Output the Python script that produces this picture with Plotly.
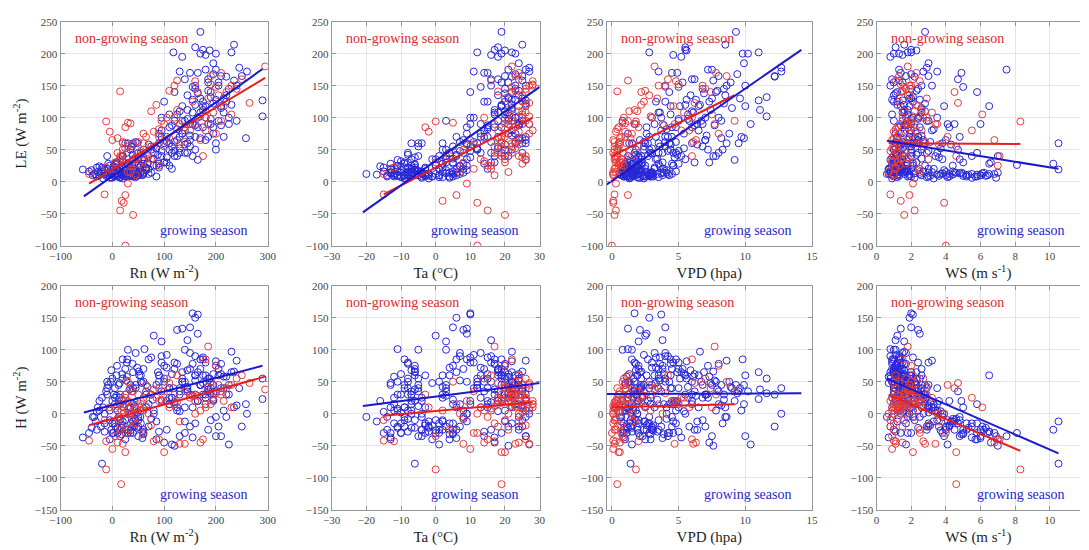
import plotly.graph_objects as go

# ---------------- data ----------------
# growing season observations (blue)
grow_rn = [-57,-35,-30,-25,-22,-20,-18,-15,-12,-10, -8,-5,-3,-2,0,2,4,5,8,10, 12,14,15,18,20,22,25,28,30,32,
           35,38,40,42,45,48,50,52,55,58, 60,-5,25,30,62,-30,-38,0,10,-25, 5,15,35,45,20,-15,40,55,-40,28,
           80,30,40,45,55,150,160,155,165,125, 135,165,95,65,70,75,80,85,90,100, 110,115,50,35,25,15,5,-10,0,70,
           88,105,60,45,140,50,120,65,40,75, 20,90,
           100,110,120,130,140,150,160,170,180,190, 200,210,220,130,145,155,95,90,80,105, 115,125,135,145,165,175,185,195,205,215,
           225,240,258,110,75,90,140,100,120,160, 170,150,60,185,195,130,70,230,200,110,
           170,160,118,175,188,200,235,230,245,290, 290,150,140,180,195,210,220,205,130,165, 185,155,200,120,175,190,215,160,145,100,
           135,180,190,170,240,225,210,250,260,60, 40,30,
           -28,-20,-15,-10,-5,0,3,6,9,12, 16,19,22,26,29,33,36,39,43,47, 51,54,57,-2,8,18,27,37,48,58,
           68,78,85,95,-32,-45,14,31,49,65,
           105,115,125,135,145,155,165,175,185,195, 205,215,225,235,120,130,140,150,160,170,
           180,190,200,210,85,95,105,115,125,145, 155,175,185,195,180,160,135,220,95,110,
           20,35,45,60,10,25,50,40,15,55]
grow_ta = [-13,-20,-14,-12,-11,-6,-9,-8,-7,-11, -13,-9,-8,-7,-6,-10,-12,-5,-6,-8, -9,-4,-7,-11,-5,-3,-6,-8,-4,-7,
           -3,-5,-6,-2,-9,-4,-5,-3,-7,-2, -6,-13,-7,-5,-11,-15,-14,-13,-10,-16, -12,-10,-9,-8,-2,-4,-1,-11,-7,-12,
           0,2,3,1,4,5,6,10,10,8, 9,9,3,6,7,2,8,4,9,5, 7,1,0,3,8,6,2,1,4,9,
           6,10,5,7,3,8,10,3,5,8, 6,2,
           12,15,18,20,22,24,19,21,23,25, 20,22,24,14,16,17,11,13,9,16, 18,20,23,25,26,17,15,19,21,26,
           23,25,24,12,10,14,19,17,21,22, 18,13,12,24,21,25,15,22,26,20,
           19,18,12,17,20,23,25,22,27,26, 24,14,16,21,24,20,22,23,11,15, 18,13,26,10,19,22,25,20,17,14,
           18,16,21,19,26,27,26,25,27,5, 2,0,
           -13,-12,-10,-9,-11,-8,-7,-9,-6,-5, -8,-10,-7,-4,-9,-6,-3,-8,-5,-2, -6,-4,-1,1,3,5,7,9,4,6,
           2,5,9,7,-17,-15,-13,-11,-10,-8,
           13,15,17,19,21,23,20,22,24,26, 19,21,23,25,16,18,20,22,24,25,
           19,20,22,24,12,14,11,13,15,18, 17,15,21,23,26,16,22,20,18,23,
           -3,0,2,4,-6,-1,3,1,-4,5]
grow_vpd = [0.9,0.6,0.9,1.0,1.1,1.4,1.3,1.5,1.6,1.2, 1.0,1.4,1.7,1.8,2.0,1.1,0.9,2.1,1.9,1.6, 1.5,2.3,1.8,1.2,2.2,2.5,2.0,1.7,2.6,1.9,
            2.8,2.4,2.1,3.0,1.4,2.7,2.3,3.2,1.8,3.4, 2.0,1.0,1.3,1.5,1.2,0.8,0.7,0.9,1.1,0.8, 1.0,1.3,1.6,1.7,2.4,1.9,3.1,1.3,1.5,1.1,
            2.5,3.0,2.2,2.8,3.5,4.0,2.8,1.7,3.7,2.1, 1.2,2.6,2.0,3.2,4.5,1.8,4.8,2.5,4.3,3.8, 4.6,1.5,1.8,2.4,3.8,3.0,1.6,1.2,2.0,4.4,
            4.9,4.7,4.2,4.0,0.8,4.5,5.0,1.7,2.9,4.1, 2.7,1.9,
            3.5,4.5,5.0,6.0,6.5,7.0,5.5,7.5,8.0,6.8, 7.2,9.0,8.5,4.2,3.8,5.2,3.0,2.6,5.5,6.2, 6.8,7.8,8.8,9.5,9.2,4.8,4.0,6.0,5.8,9.7,
            7.0,8.2,9.9,4.4,3.6,5.0,4.6,7.3,7.6,8.3, 3.5,3.2,2.8,6.4,5.4,8.0,3.9,6.6,8.6,5.7,
            9.3,5.5,2.8,5.5,5.6,10.2,8.5,11.0,12.7,11.0, 11.6,4.5,6.0,7.2,9.9,8.0,12.2,10.0,3.5,4.9, 6.2,5.0,7.5,4.3,6.5,7.8,9.6,8.4,11.1,4.0,
            5.2,4.6,11.6,9.8,8.6,10.4,10.0,12.2,12.7,3.5, 2.5,2.0,
            1.0,1.2,1.3,1.5,1.1,1.6,1.8,1.4,2.0,2.2, 1.7,1.3,1.9,2.4,1.5,2.1,2.7,1.8,2.5,3.0, 2.2,2.8,3.3,1.9,2.3,2.9,3.6,4.1,3.0,3.8,
            2.2,3.4,4.6,4.2,0.7,0.8,1.0,1.2,1.4,1.9,
            3.3,3.9,4.4,5.1,5.7,6.3,6.9,7.4,7.9,8.4, 5.3,6.1,6.8,7.6,4.8,5.4,6.4,7.1,7.7,8.2,
            4.4,5.0,5.6,6.2,3.0,3.7,2.4,2.9,4.1,5.9, 3.6,3.3,8.9,9.4,7.0,4.0,6.7,7.3,4.5,6.0,
            2.6,3.1,3.5,3.9,1.9,2.9,3.7,4.3,2.1,4.8]
grow_ws = [0.7,0.6,1.0,1.2,0.8,10.5,0.9,1.1,1.3,1.8, 1.0,2.2,0.9,1.6,1.2,1.4,3.0,1.1,0.8,1.3, 2.5,1.7,1.0,4.0,1.5,2.0,3.5,1.2,4.5,1.4,
           5.0,1.9,1.0,5.5,2.3,1.6,6.0,1.3,3.2,6.5, 0.9,7.0,2.8,1.1,0.8,1.5,0.9,3.8,2.0,1.1, 1.6,1.2,2.6,1.4,3.3,1.9,4.2,1.7,2.4,0.7,
           1.2,4.0,1.5,5.2,2.0,2.0,1.9,2.0,2.1,2.4, 1.4,2.5,1.6,3.0,4.2,1.0,3.5,5.8,2.2,1.2, 2.8,1.7,4.8,2.6,1.3,6.2,1.1,2.0,5.5,1.4,
           2.3,3.6,6.8,1.5,1.0,2.1,3.0,1.3,1.8,4.6, 1.0,1.5,
           1.8,2.2,1.5,2.8,3.2,4.0,1.2,2.0,3.5,4.5, 1.4,2.6,1.8,4.8,1.1,5.5,2.4,1.6,3.8,5.0, 2.7,3.4,1.9,2.3,1.5,1.3,2.1,4.2,2.9,2.4,
           1.7,3.0,2.2,1.0,1.3,6.5,5.8,6.6,7.0,4.7, 2.6,1.7,2.0,6.0,1.1,2.4,3.3,1.6,3.8,1.8,
           2.8,1.1,1.8,2.0,2.3,1.0,1.6,2.0,2.9,1.5, 2.5,1.4,0.9,1.3,3.0,1.7,2.2,2.6,3.5,4.9, 4.7,5.0,7.5,5.8,6.5,1.2,1.9,2.4,1.6,1.0,
           0.8,1.5,2.1,1.3,3.2,4.1,3.9,3.0,2.7,10.2, 10.5,8.1,
           1.3,0.9,1.7,1.0,2.1,0.8,1.3,3.6,1.1,1.6, 4.4,1.0,2.2,5.2,0.9,1.5,5.8,1.2,2.7,6.3, 1.0,4.8,1.7,2.9,1.4,5.0,1.2,3.9,1.1,6.0,
           1.8,2.6,4.4,1.3,1.2,1.8,0.7,1.9,3.0,1.5,
           1.2,1.6,0.9,1.4,2.0,2.5,1.1,1.8,2.3,2.8, 1.0,1.5,2.0,1.3,3.1,3.7,4.3,2.6,1.7,1.2,
           1.9,2.4,0.9,1.4,1.5,2.0,1.1,2.9,3.3,1.0, 1.6,2.1,1.5,2.0,2.7,0.8,1.8,1.2,2.4,2.1,
           3.1,3.7,4.1,4.9,5.3,5.7,6.1,6.4,6.9,4.4]
grow_le = [19,12,8,10,16,19,5,14,9,20, 28,6,11,15,18,24,8,13,22,30, 12,16,35,10,40,20,11,45,14,25,
           9,55,18,12,30,60,10,22,15,12, 38,14,60,60,34,22,10,13,8,24, 12,7,10,16,5,12,8,25,18,13,
           25,15,35,10,45,55,70,90,100,65, 75,85,40,20,12,50,45,8,60,30, 25,20,35,50,20,14,28,40,6,58,
           42,38,12,62,95,28,48,18,8,14, 40,22,
           60,85,95,110,80,65,120,130,100,90, 50,115,135,70,45,40,100,75,35,30, 55,40,75,60,34,85,70,85,95,70,
           100,95,68,50,55,28,45,30,40,50, 108,90,50,90,75,45,20,120,60,105,
           234,210,202,206,205,200,214,202,178,127, 102,170,160,175,185,165,164,150,172,170, 160,148,175,140,118,140,130,145,112,125,
           195,198,132,200,150,90,118,165,172,28, 60,26,
           15,22,18,10,25,14,20,9,27,17, 11,32,13,8,28,19,11,42,16,9, 26,13,35,7,30,12,24,18,44,10,
           28,36,25,48,11,16,20,9,14,22,
           70,88,105,118,98,128,138,112,142,122, 155,108,145,158,62,52,58,72,88,68,
           118,98,128,88,52,80,62,45,82,135, 108,125,155,168,65,150,95,125,70,60,
           9,12,7,14,11,8,13,10,6,16]
grow_h = [-37,-5,-25,5,-20,-78,10,-28,35,30, 45,-10,50,68,20,-30,-15,40,60,5, -5,25,15,-22,55,10,-10,80,-25,0,
          -30,35,65,-20,45,20,-35,60,5,-28, 70,-40,30,100,101,3,-5,-30,-30,20, 15,30,10,40,-12,0,-18,50,-22,58,
          122,-25,40,-15,60,135,150,157,155,131, 133,125,113,10,-20,30,5,-40,50,75, 15,-48,-10,45,70,-25,25,50,-15,85,
          65,20,-30,95,100,-5,80,35,15,-8, 85,60,
          55,40,70,30,10,-20,60,45,15,-10, 75,40,-5,-35,115,-37,80,60,0,-25, 25,5,50,35,20,85,55,20,-20,5,
          30,13,15,40,88,-28,-30,-45,-50,-15, 70,95,50,-25,62,35,15,97,-5,25,
          45,60,40,30,55,35,10,65,40,23, 55,70,50,25,45,78,30,60,40,20, 35,10,-35,15,60,50,40,30,38,50,
          65,80,32,85,83,-48,-35,-20,0,-25, -12,-30,
          10,25,-15,40,5,55,30,-20,75,45, -8,62,20,-25,85,38,-15,78,12,-22, 66,-5,48,-25,28,-32,52,0,72,-38,
          42,22,-12,90,-12,-30,48,8,2,30,
          72,62,78,55,42,28,65,48,38,22, 70,58,45,66,18,4,-12,30,52,45,
          60,40,82,62,45,35,92,25,10,68, 78,88,42,32,30,90,50,58,20,15,
          -18,-26,-10,-32,-22,-40,-20,-30,-35,-15]

# non-growing season observations (red)
ng_rn = [-45,-12,-5,15,18,15,25,25,40,22, 30,25,30,35,20,0,10,17,25,-15, -12,5,40,50,60,70,80,90,100,110,
         120,125,295,160,190,210,220,265,200,210, 185,180,150,230,170,175,130,140,90,100,
         60,45,55,75,85,190,160,205,35,15, 65,120,180,240,250,10,30,45,20,60,
         5,15,25,35,50,65,80,95,110,125, 140,155,170,185,200,215,45,30,20,75, 90,130,165,180,60,40,10,105,195,230]
ng_ta = [-15,0,-2,18,2,15,6,12,20,12, 9,-3,5,20,8,10,14,19,20,-15, -12,0,16,18,22,24,17,19,21,23,
         25,16,22,28,28,24,26,27,20,22, 17,22,18,25,24,26,27,23,15,19,
         11,13,21,24,26,23,21,25,7,4, 20,28,28,26,24,17,22,25,19,14,
         16,20,23,25,19,22,24,26,18,21, 23,25,27,20,22,24,17,21,23,26, 20,24,22,25,27,11,8,14,26,27]
ng_vpd = [0.1,1.8,0.3,0.4,0.1,0.3,1.2,0.0,0.2,0.1, 0.3,0.5,0.8,1.0,0.2,0.1,0.6,0.4,0.6,0.2,
          0.3,0.8,0.5,0.9,1.1,1.5,2.0,0.7,1.8,2.5, 3.0,1.2,3.2,4.8,5.0,7.8,7.4,6.2,8.0,9.2,
          7.7,6.0,5.2,7.5,6.3,6.0,4.7,6.1,0.9,0.5, 0.7,0.2,0.4,1.3,2.2,8.6,3.8,2.8,0.1,0.2,
          1.0,3.5,5.8,7.0,4.2,0.1,0.2,0.3,0.5,0.6,
          0.2,0.3,0.4,0.5,0.6,0.8,1.0,1.2,1.4,1.7, 2.0,2.4,2.9,3.4,4.0,4.6,0.1,0.3,0.2,0.7,
          0.4,1.6,2.2,1.9,1.5,0.6,0.3,0.9,5.4,6.8]
ng_ws = [1.0,8.3,1.0,1.5,1.4,2.2,1.9,4.0,1.6,3.9, 2.1,1.2,2.0,1.8,1.1,0.9,1.5,4.6,2.1,0.8,
         1.1,0.9,1.3,1.7,2.4,1.0,2.7,1.2,2.2,1.5, 2.9,1.1,1.8,2.5,1.4,2.3,4.5,4.7,2.0,2.0,
         1.8,1.5,5.5,6.1,6.8,7.1,3.4,2.8,7.0,4.6, 2.5,1.2,0.8,1.6,2.3,1.3,3.5,1.9,0.7,1.0,
         4.1,2.0,2.6,1.7,2.1,1.3,1.0,1.8,1.2,0.9,
         1.1,1.4,0.9,1.7,2.0,1.2,2.3,1.5,1.0,2.6, 1.8,1.3,2.1,2.9,1.6,2.4,1.0,2.5,1.6,3.0,
         1.1,3.6,1.4,2.2,1.3,1.9,1.2,2.7,3.2,1.9]
ng_le = [12,94,78,141,-30,-45,-21,-100,-52,-33, -3,85,92,91,50,65,68,40,30,-20,
         22,30,25,45,60,40,55,70,90,142, 100,158,180,157,152,170,140,123,75,95,
         90,100,80,105,65,40,90,62,25,55, 20,35,48,110,120,165,90,135,15,40,
         70,150,80,145,160,45,55,38,60,32,
         20,35,52,28,62,45,78,95,68,112, 85,125,102,130,148,118,10,15,62,35,
         82,58,140,110,75,58,30,100,108,150]
ng_h = [-42,-87,10,-20,5,-5,15,-30,-10,0, 20,30,50,40,-47,-55,-45,-110,-60,-10,
        -43,-35,5,15,25,0,-43,20,35,10, 30,60,38,20,15,30,40,48,75,35,
        105,85,25,10,-45,-40,-47,-47,-40,-60, -30,10,20,30,25,50,0,45,0,-25,
        45,15,10,55,60,12,18,8,22,5,
        8,15,25,2,30,12,38,22,48,18, 35,28,5,42,32,20,-15,-25,12,-18,
        40,-12,28,15,8,35,-8,55,25,45]

# fitted regression lines (end points): [x0, x1], [y0, y1]
fit_grow = {
    ("rn", "le"): ([-55, 290], [-23, 176]),   ("ta", "le"): ([-21, 30], [-48, 148]),
    ("vpd", "le"): ([-0.5, 14.2], [-6, 206]), ("ws", "le"): ([0.6, 10.5], [64, 20]),
    ("rn", "h"): ([-55, 290], [2, 75]),       ("ta", "h"): ([-21, 30], [12, 48]),
    ("vpd", "h"): ([-0.5, 14.2], [31, 32]),   ("ws", "h"): ([0.6, 10.5], [55, -62]),
}
fit_ng = {
    ("rn", "le"): ([-45, 295], [-3, 162]),    ("ta", "le"): ([-15, 28], [-20, 100]),
    ("vpd", "le"): ([0, 9.2], [40, 135]),     ("ws", "le"): ([0.7, 8.3], [60, 59]),
    ("rn", "h"): ([-45, 295], [-18, 58]),     ("ta", "h"): ([-15, 28], [-3, 18]),
    ("vpd", "h"): ([0, 9.2], [10, 15]),       ("ws", "h"): ([0.7, 8.3], [30, -58]),
}

x_names = ["rn", "ta", "vpd", "ws"]
x_titles = ["Rn (W m<sup>-2</sup>)", "Ta (°C)", "VPD (hpa)", "WS (m s<sup>-1</sup>)"]
x_ticks = [[-100, 0, 100, 200, 300], [-30, -20, -10, 0, 10, 20, 30], [0, 5, 10, 15], [0, 2, 4, 6, 8, 10, 12]]
y_names = ["le", "h"]
y_titles = ["LE (W m<sup>-2</sup>)", "H (W m<sup>-2</sup>)"]
y_ticks = [[-100, -50, 0, 50, 100, 150, 200, 250], [-150, -100, -50, 0, 50, 100, 150, 200]]
label_ng = "non-growing season"
label_grow = "growing season"

grow = {"rn": grow_rn, "ta": grow_ta, "vpd": grow_vpd, "ws": grow_ws, "le": grow_le, "h": grow_h}
ng = {"rn": ng_rn, "ta": ng_ta, "vpd": ng_vpd, "ws": ng_ws, "le": ng_le, "h": ng_h}
n_g = min(len(v) for v in grow.values())
n_n = min(len(v) for v in ng.values())

# ---------------- layout geometry ----------------
W, H = 1089, 550
col_px = [(50.5, 261.5), (326.7, 538.5), (606.7, 816.0), (881.7, 1089.0)]
col_true_right = [261.5, 538.5, 816.0, 1094.0]
row_px = [(16, 245), (286, 515)]
x_ranges = [[-100, 300], [-30, 30], [-0.4, 15], [0, 11.74]]
y_ranges = [[-100, 250], [-150, 200]]

BLUE = "rgb(40,40,215)"
RED = "rgb(228,60,60)"
BLUE_LINE = "rgb(25,25,205)"
RED_LINE = "rgb(232,30,30)"
GRID = "rgb(228,228,228)"
AXC = "rgb(150,150,150)"
FONT = "Liberation Serif"

fig = go.Figure()
layout = dict(width=W, height=H, margin=dict(l=0, r=0, t=0, b=0),
              paper_bgcolor="white", plot_bgcolor="white", showlegend=False,
              font=dict(family=FONT, size=11, color="rgb(70,70,70)"))
annotations = []

for r, yn in enumerate(y_names):
    for c, xn in enumerate(x_names):
        idx = r * 4 + c + 1
        xa = "x" if idx == 1 else f"x{idx}"
        ya = "y" if idx == 1 else f"y{idx}"
        fig.add_trace(go.Scatter(x=grow[xn][:n_g], y=grow[yn][:n_g], mode="markers", xaxis=xa, yaxis=ya,
                                 marker=dict(symbol="circle-open", size=7, color=BLUE, line=dict(width=1, color=BLUE))))
        fig.add_trace(go.Scatter(x=ng[xn][:n_n], y=ng[yn][:n_n], mode="markers", xaxis=xa, yaxis=ya,
                                 marker=dict(symbol="circle-open", size=7, color=RED, line=dict(width=1, color=RED))))
        fx, fy = fit_ng[(xn, yn)]
        fig.add_trace(go.Scatter(x=fx, y=fy, mode="lines", xaxis=xa, yaxis=ya,
                                 line=dict(color=RED_LINE, width=2)))
        fx, fy = fit_grow[(xn, yn)]
        fig.add_trace(go.Scatter(x=fx, y=fy, mode="lines", xaxis=xa, yaxis=ya,
                                 line=dict(color=BLUE_LINE, width=2)))

        x0, x1 = col_px[c]
        ytop, ybot = row_px[r]
        common = dict(showgrid=True, gridcolor=GRID, gridwidth=1, zeroline=False,
                      showline=True, linecolor=AXC, linewidth=1,
                      ticks="inside", ticklen=4, tickcolor=AXC,
                      tickfont=dict(family=FONT, size=11, color="rgb(70,70,70)"))
        layout["xaxis" if idx == 1 else f"xaxis{idx}"] = dict(
            domain=[x0 / W, x1 / W], anchor=ya, range=x_ranges[c], tickmode="array",
            tickvals=x_ticks[c], mirror="ticks",
            title=dict(text=x_titles[c], font=dict(family=FONT, size=15, color="rgb(30,30,30)"), standoff=6),
            **common)
        ydict = dict(domain=[1 - ybot / H, 1 - ytop / H], anchor=xa, range=y_ranges[r], tickmode="array",
                     tickvals=y_ticks[r], mirror=("ticks" if c < 3 else False), **common)
        if c == 0:
            ydict["title"] = dict(text=y_titles[r], font=dict(family=FONT, size=15, color="rgb(30,30,30)"), standoff=4)
        layout["yaxis" if idx == 1 else f"yaxis{idx}"] = ydict

        annotations.append(dict(text=label_ng, xref="paper", yref="paper",
                                x=(x0 + 12.5) / W, y=1 - (ytop + 17) / H, xanchor="left", yanchor="middle",
                                showarrow=False, font=dict(family=FONT, size=14, color="rgb(215,45,45)")))
        annotations.append(dict(text=label_grow, xref="paper", yref="paper",
                                x=(col_true_right[c] - 18.5) / W, y=1 - (ybot - 16) / H, xanchor="right", yanchor="middle",
                                showarrow=False, font=dict(family=FONT, size=14, color="rgb(40,40,200)")))

layout["annotations"] = annotations
fig.update_layout(**layout)
fig.write_html("out.html")
